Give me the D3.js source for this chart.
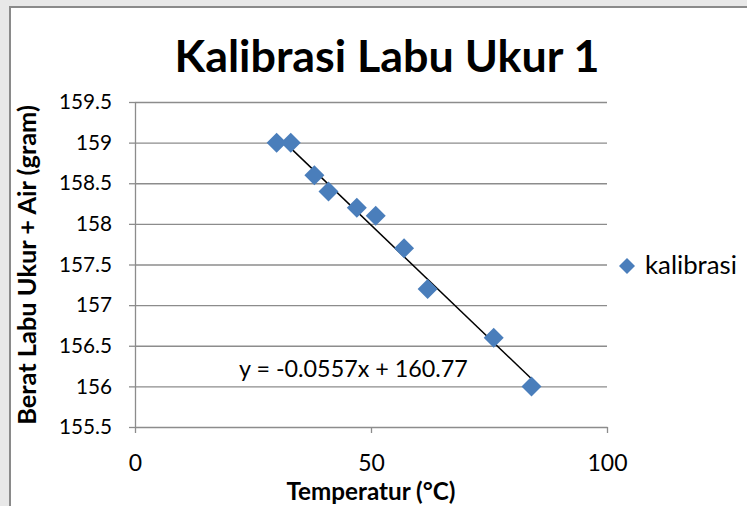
<!DOCTYPE html>
<html>
<head>
<meta charset="utf-8">
<script src="https://cdn.jsdelivr.net/npm/d3@7"></script>
<style>
  body { margin: 0; background: #e8e8e8; }
  svg { display: block; font-family: Lato, "Noto Sans", sans-serif; }
</style>
</head>
<body>
<div class="vizHolder"></div>
<script>
var width = 747,
    height = 506;

// data
var temperatur = [30, 33, 38, 41, 47, 51, 57, 62, 76, 84];
var berat = [159, 159, 158.6, 158.4, 158.2, 158.1, 157.7, 157.2, 156.6, 156];
var xTicks = [0, 50, 100];
var yTicks = [155.5, 156, 156.5, 157, 157.5, 158, 158.5, 159, 159.5];
var seriesName = 'kalibrasi';
var equation = 'y = -0.0557x + 160.77';

var plotLeft = 135, plotRight = 607, plotTop = 102, plotBottom = 427;

var svg = d3.select('.vizHolder')
            .append('svg')
            .attr('width', width)
            .attr('height', height);

// outer frame
svg.append('rect').attr('width', width).attr('height', height).attr('fill', '#e8e8e8');
svg.append('rect')
   .attr('x', 10).attr('y', 7)
   .attr('width', width).attr('height', height)
   .attr('fill', '#fff')
   .attr('stroke', '#8a8a8a')
   .attr('stroke-width', 2);

var xScale = d3.scaleLinear().domain([0, 100]).range([plotLeft, plotRight]);
var yScale = d3.scaleLinear().domain([155.5, 159.5]).range([plotBottom, plotTop]);

// shrink/grow font so a text hits a given width
function fit(sel, w) {
  var fs = parseFloat(sel.attr('font-size'));
  var cur = sel.node().getComputedTextLength();
  sel.attr('font-size', fs * w / cur);
  return fs * w / cur;
}

// gridlines
svg.append('g')
   .attr('transform', 'translate(' + plotLeft + ',0)')
   .call(d3.axisLeft(yScale).tickValues(yTicks.slice(1)).tickSize(-(plotRight - plotLeft)).tickFormat(''))
   .call(function(g){
     g.select('.domain').remove();
     g.selectAll('line').attr('stroke', '#8c8c8c').attr('stroke-width', 1.3);
   });

// y axis
var yAxisGroup = svg.append('g')
   .attr('transform', 'translate(' + plotLeft + ',0)')
   .call(d3.axisLeft(yScale).tickValues(yTicks).tickSize(6).tickSizeOuter(0).tickPadding(17).tickFormat(d3.format('')));
yAxisGroup.select('.domain').attr('stroke', '#8c8c8c').attr('stroke-width', 1.3);
yAxisGroup.selectAll('line').attr('stroke', '#8c8c8c').attr('stroke-width', 1.3);
yAxisGroup.selectAll('text').attr('font-family', 'Lato').attr('font-size', 20).attr('fill', '#000');
var yfs = fit(yAxisGroup.selectAll('text').filter(function(d){ return d === 159.5; }), 53);
yAxisGroup.selectAll('text').attr('font-size', yfs);

// x axis
var xAxisGroup = svg.append('g')
   .attr('transform', 'translate(0,' + plotBottom + ')')
   .call(d3.axisBottom(xScale).tickValues(xTicks).tickSize(6).tickSizeOuter(0).tickPadding(22));
xAxisGroup.select('.domain').attr('stroke', '#8c8c8c').attr('stroke-width', 1.3);
xAxisGroup.selectAll('line').attr('stroke', '#8c8c8c').attr('stroke-width', 1.3);
xAxisGroup.selectAll('text').attr('font-family', 'Lato').attr('font-size', 20).attr('fill', '#000');
var xfs = fit(xAxisGroup.selectAll('text').filter(function(d){ return d === 100; }), 40);
xAxisGroup.selectAll('text').attr('font-size', xfs);

// trendline from least squares on the data
var mx = d3.mean(temperatur), my = d3.mean(berat);
var sxy = d3.sum(temperatur, function(t, i){ return (t - mx) * (berat[i] - my); });
var sxx = d3.sum(temperatur, function(t){ return (t - mx) * (t - mx); });
var slope = sxy / sxx, icpt = my - slope * mx;
var xr = d3.extent(temperatur);
svg.append('line')
   .attr('x1', xScale(xr[0])).attr('y1', yScale(icpt + slope * xr[0]))
   .attr('x2', xScale(xr[1])).attr('y2', yScale(icpt + slope * xr[1]))
   .attr('stroke', '#000').attr('stroke-width', 1.5);

// diamonds
var diamond = 'M0,-10L10,0L0,10L-10,0Z';
svg.append('g').selectAll('path')
   .data(temperatur)
   .enter().append('path')
   .attr('d', diamond)
   .attr('transform', function(d, i){ return 'translate(' + xScale(d) + ',' + yScale(berat[i]) + ')'; })
   .attr('fill', '#4a7ebb');

// equation label
var eq = svg.append('text')
   .attr('x', 239).attr('y', 377)
   .attr('font-size', 24)
   .text(equation);
fit(eq, 229);

// title
var title = svg.append('text')
   .attr('x', 387).attr('y', 72)
   .attr('text-anchor', 'middle')
   .attr('font-weight', 'bold')
   .attr('font-size', 38)
   .text('Kalibrasi Labu Ukur 1');
fit(title, 425);

// axis titles
var xt = svg.append('text')
   .attr('x', 371).attr('y', 500)
   .attr('text-anchor', 'middle')
   .attr('font-weight', 'bold')
   .attr('font-size', 20)
   .text('Temperatur (°C)');
fit(xt, 169);

var yt = svg.append('text')
   .attr('transform', 'translate(36,265) rotate(-90)')
   .attr('text-anchor', 'middle')
   .attr('font-weight', 'bold')
   .attr('font-size', 20)
   .text('Berat Labu Ukur + Air (gram)');
fit(yt, 320);

// legend
svg.append('path')
   .attr('d', 'M0,-8L8,0L0,8L-8,0Z')
   .attr('transform', 'translate(627,266)')
   .attr('fill', '#4a7ebb');
var lg = svg.append('text')
   .attr('x', 645).attr('y', 274)
   .attr('font-size', 20)
   .text(seriesName);
fit(lg, 92);
</script>
</body>
</html>
